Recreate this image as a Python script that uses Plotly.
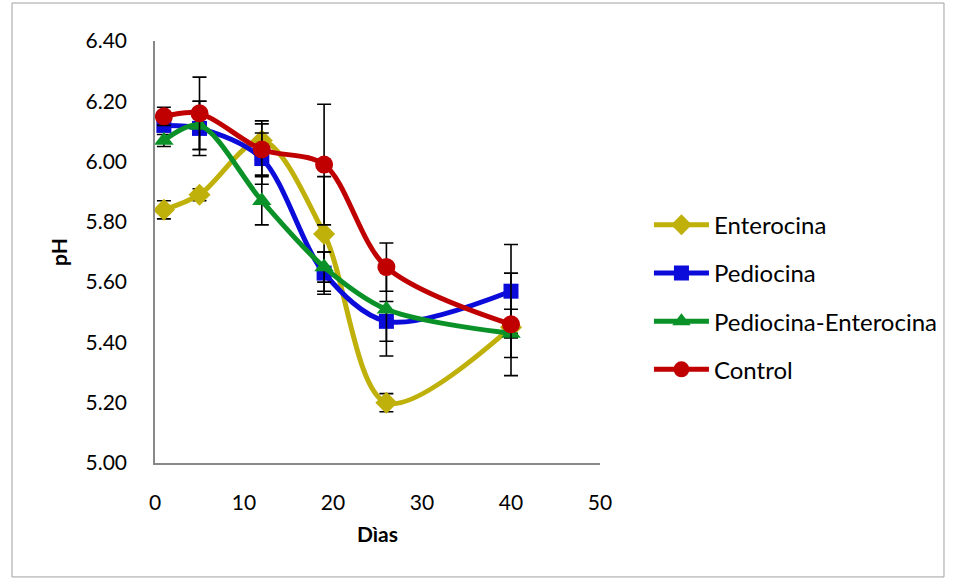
import plotly.graph_objects as go

# Sampling days
dias = [1, 5, 12, 19, 26, 40]

# Mean pH per treatment
enterocina = [5.84, 5.89, 6.07, 5.76, 5.20, 5.45]
pediocina = [6.12, 6.11, 6.01, 5.63, 5.47, 5.57]
pedio_entero = [6.07, 6.12, 5.87, 5.65, 5.51, 5.43]
control = [6.15, 6.16, 6.04, 5.99, 5.65, 5.46]

# Standard deviations
err_enterocina = [0.03, 0.02, 0.065, 0.19, 0.03, 0.02]
err_pediocina = [0.02, 0.09, 0.085, 0.07, 0.066, 0.155]
err_pedio_entero = [0.02, 0.08, 0.08, 0.05, 0.155, 0.08]
err_control = [0.03, 0.12, 0.085, 0.20, 0.08, 0.17]

series = [
    ("Enterocina", enterocina, err_enterocina, "#BFB00A", "diamond", 17),
    ("Pediocina", pediocina, err_pediocina, "#0C0CDA", "square", 15),
    ("Pediocina-Enterocina", pedio_entero, err_pedio_entero, "#0A9228", "triangle-up", 17),
    ("Control", control, err_control, "#C00000", "circle", 18),
]

FONT = "Lato, Carlito, Calibri, sans-serif"

fig = go.Figure()
for i, (name, vals, errs, color, symbol, size) in enumerate(series):
    fig.add_trace(go.Scatter(
        x=dias, y=vals, name=name, mode="lines+markers",
        line=dict(color=color, width=5, shape="spline", smoothing=0.9),
        marker=dict(symbol=symbol, size=size, color=color),
        error_y=dict(type="data", array=errs, visible=True,
                     color="black", thickness=1.6, width=7),
        legendgroup=f"g{i}",
    ))

fig.update_layout(
    width=956, height=578,
    margin=dict(l=155, r=356, t=41, b=115),
    paper_bgcolor="white", plot_bgcolor="white",
    font=dict(family=FONT, size=21, color="black"),
    showlegend=True,
    legend=dict(x=1.11, y=0.617, xanchor="left", yanchor="top",
                font=dict(family=FONT, size=24), tracegroupgap=14,
                bgcolor="rgba(0,0,0,0)", itemwidth=55),
    xaxis=dict(range=[0, 50], dtick=10, showgrid=False, zeroline=False,
               showline=True, linecolor="#888888", linewidth=1.5,
               ticks="", ticklabelstandoff=20,
               title=dict(text="<b>Dìas</b>", standoff=14,
                          font=dict(family=FONT, size=21))),
    yaxis=dict(range=[5.0, 6.4], dtick=0.2, tickformat=".2f",
               showgrid=False, zeroline=False,
               showline=True, linecolor="#888888", linewidth=1.5,
               ticks="", ticklabelstandoff=22,
               title=dict(text="<b>pH</b>", standoff=12,
                          font=dict(family=FONT, size=21))),
    shapes=[dict(type="rect", xref="paper", yref="paper",
                 x0=-0.3213, x1=1.773, y0=-0.27, y1=1.09,
                 line=dict(color="#A0A0A0", width=1), layer="below")],
)

fig.write_html("out.html")
